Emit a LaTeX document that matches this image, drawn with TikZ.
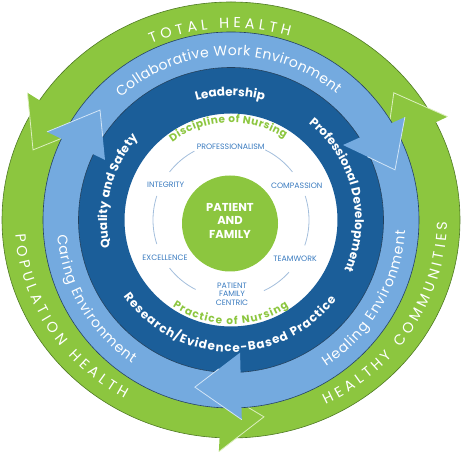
\documentclass[tikz,border=0pt]{standalone}
\usepackage{fontspec}
\setmainfont{Poppins}
\usetikzlibrary{decorations.text,calc}
\definecolor{grn}{HTML}{8CC63F}
\definecolor{grnline}{HTML}{4F7A24}
\definecolor{grnpale}{HTML}{DCEFBF}
\definecolor{lblue}{HTML}{74AADF}
\definecolor{lbpale}{HTML}{D2E5F7}
\definecolor{dblue}{HTML}{1B5E99}
\definecolor{navy}{HTML}{21405E}
\definecolor{lbl}{HTML}{3A7BBF}
\definecolor{thinc}{HTML}{A3BEDC}
\newcommand\myarctext[6]{%
  \path[decorate,decoration={text along path,text align=fit to path,
    text color=#1,text={|#2|#6}}]
    (#3:#5) arc[start angle=#3,end angle=#4,radius=#5];}
\newcommand\myelltext[7]{%
  \path[decorate,decoration={text along path,text align=fit to path,
    text color=#1,text={|#2|#7}}]
    (#3:#5 and #6) arc[start angle=#3,end angle=#4,x radius=#5,y radius=#6];}
\newcommand\fgreen{\fontsize{14.5}{14.5}\selectfont}
\newcommand\flight{\fontsize{14}{14}\selectfont}
\newcommand\fdark{\bfseries\fontsize{12}{12}\selectfont}
\newcommand\fnurs{\bfseries\fontsize{10.5}{10.5}\selectfont}
\begin{document}
\begin{tikzpicture}[x=1pt,y=1pt,
  lab/.style={text=lbl,font=\fontsize{7.8}{8.6}\selectfont,align=center,inner sep=0pt},
  thinarc/.style={thinc,line width=0.8},
  ringline/.style={line width=0.6}]
\useasboundingbox (0,0) rectangle (461,454);
\begin{scope}[shift={(231,234)}]
 % green ring
 \fill[grn,even odd rule] (0,0) ellipse[x radius=229,y radius=218] (0,0) circle[radius=188];
 \draw[grnline,ringline] (0,0) ellipse[x radius=229,y radius=218];
 \foreach \ba/\bra/\ta/\tra in {148/240/160.5/210, 25.5/240/38/206.6, 267/232/279.5/199.6}{
   \fill[grn] (\ba:\bra) -- (\ta:\tra) -- (\ba:172) -- cycle;
   \draw[grnpale,line width=0.8] (\ba:\bra) -- (\ta:\tra) -- (\ba:172);
 }
 % light blue ring
 \fill[lblue,even odd rule] (0,0) circle[radius=188] (0,0) circle[radius=152.5];
 \draw[navy,ringline] (0,0) circle[radius=188];
 % dark blue ring
 \fill[dblue,even odd rule] (0,0) circle[radius=152.5] (0,0) circle[radius=106.5];
 \draw[navy,ringline] (0,0) circle[radius=152.5];
 % light blue heads
 \foreach \oa/\ora/\ta/\tra/\ia/\ira in {154.4/204/140/171/154.5/139.6, 30.6/202/17/171.5/33.8/134.8, 273.1/200/257.8/171/273.9/133}{
   \fill[lblue] (\oa:\ora) -- (\ta:\tra) -- (\ia:\ira) -- cycle;
   \draw[lbpale,line width=0.8] (\oa:\ora) -- (\ta:\tra) -- ($(\ta:\tra)!0.53!(\ia:\ira)$);
 }
 % thin circle
 \foreach \a/\b in {118/142, 38/64, -19/18, -65/-42, 218/243, 162/198}
   \draw[thinarc] (\a:78) arc[start angle=\a,end angle=\b,radius=78];
 % labels
 \node[lab] (prof) at (-0.3,73.3) {PROFESSIONALISM};
 \node[lab] (comp) at (65.7,34.3) {COMPASSION};
 \node[lab] (team) at (64,-38.3) {TEAMWORK};
 \node[lab] (pfc) at (1,-74) {PATIENT\\FAMILY\\CENTRIC};
 \node[lab] (exc) at (-66,-37.3) {EXCELLENCE};
 \node[lab] (integ) at (-65.3,35.7) {INTEGRITY};
 % center
 \fill[grn] (-1,-3.5) circle[radius=48];
 \node[text=white,font=\bfseries\fontsize{11.5}{13.5}\selectfont,align=center,inner sep=0pt] (pf) at (-1,-0.5) {PATIENT\\AND\\FAMILY};
 % ring texts
 \myelltext{white}{\fgreen}{113.5}{73}{200}{192}{TOTAL HEALTH}
 \myelltext{white}{\fgreen}{184}{240.5}{216}{205}{POPULATION HEALTH}
 \myelltext{white}{\fgreen}{-64}{-0.5}{216}{205}{HEALTHY COMMUNITIES}
 \myarctext{white}{\flight}{132}{50}{164.5}{Collaborative Work Environment}
 \myarctext{white}{\flight}{185}{235.5}{174.5}{Caring Environment}
 \myarctext{white}{\flight}{-57}{-3.5}{174.5}{Healing Environment}
 \myarctext{white}{\fdark}{106.2}{75.5}{124}{Leadership}
 \myarctext{white}{\fdark}{51.2}{-23.9}{124}{Professional Development}
 \myarctext{white}{\fdark}{215.5}{323}{132}{Research/Evidence-Based Practice}
 \myarctext{white}{\fdark}{193}{138.5}{124}{Quality and Safety}
 \myarctext{grn}{\fnurs}{127}{56.5}{97.5}{Discipline of Nursing}
 \myarctext{grn}{\fnurs}{236}{303.5}{104.5}{Practice of Nursing}
\end{scope}
\end{tikzpicture}
\end{document}
